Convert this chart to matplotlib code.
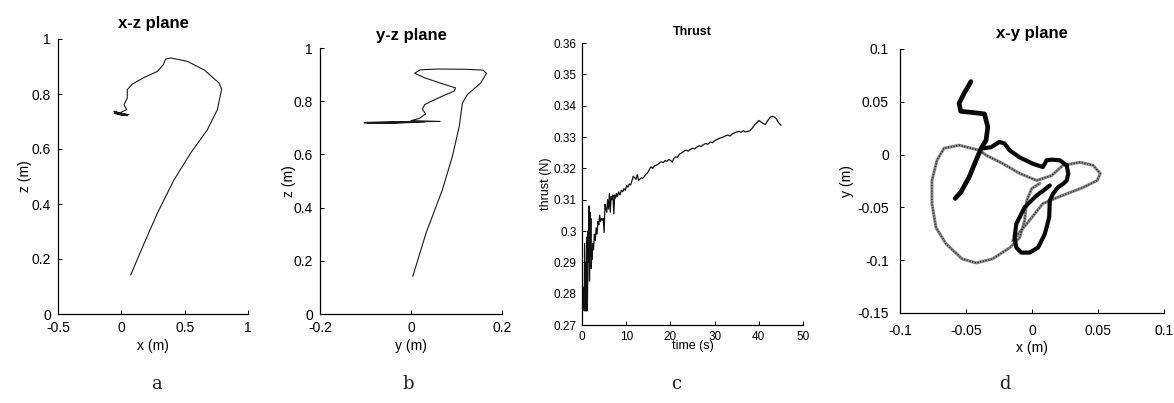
import matplotlib
matplotlib.use("Agg")
import matplotlib.pyplot as plt
import numpy as np

plt.rcParams['font.family'] = ['Liberation Sans', 'DejaVu Sans']
plt.rcParams['axes.unicode_minus'] = False

# ---------------- data ----------------
# panel a: x-z plane
xz_x = [0.074, 0.18, 0.284, 0.416, 0.547, 0.679, 0.758, 0.792, 0.771, 0.653, 0.52, 0.39,
        0.35, 0.33, 0.284, 0.179, 0.087, 0.047, 0.047, 0.021, 0.042, -0.005, -0.058, 0.06,
        -0.045, 0.047, -0.058, 0.05, -0.03, 0.02, -0.05]
xz_z = [0.142, 0.257, 0.366, 0.488, 0.585, 0.67, 0.743, 0.818, 0.84, 0.888, 0.919, 0.931,
        0.927, 0.906, 0.882, 0.86, 0.836, 0.816, 0.785, 0.761, 0.743, 0.733, 0.73, 0.725,
        0.728, 0.721, 0.737, 0.724, 0.726, 0.723, 0.731]

# panel b: y-z plane
yz_y = [0.004, 0.033, 0.069, 0.091, 0.106, 0.113, 0.124, 0.153, 0.166, 0.158, 0.12, 0.06,
        0.02, 0.008, 0.03, 0.07, 0.098, 0.095, 0.07, 0.045, 0.03, 0.025, 0.032, 0.018, 0.0,
        0.064, -0.02, -0.1, 0.03, -0.09, 0.0, -0.06, -0.103, 0.01, -0.08, -0.03, -0.095]
yz_z = [0.142, 0.304, 0.467, 0.593, 0.705, 0.793, 0.825, 0.868, 0.905, 0.917, 0.92, 0.921,
        0.918, 0.905, 0.888, 0.865, 0.85, 0.838, 0.82, 0.8, 0.787, 0.77, 0.752, 0.735, 0.727,
        0.724, 0.722, 0.72, 0.723, 0.718, 0.72, 0.717, 0.719, 0.721, 0.718, 0.72, 0.719]

# panel c: thrust over time
time_s = [0.3, 0.5, 0.6, 0.8, 0.9, 1.0, 1.1, 1.2, 1.3, 1.4, 1.5, 1.6, 1.7, 1.8, 1.9, 2.0,
          2.1, 2.2, 2.3, 2.4,
          2.6, 2.8, 3.0, 3.2, 3.4, 3.6, 3.8, 4.0, 4.2, 4.4, 4.6, 4.8, 5.0, 5.2, 5.4, 5.6,
          5.8, 6.0, 6.2, 6.4, 6.6, 6.8, 7.0, 7.2, 7.4, 7.6, 7.8, 8.0,
          8.3, 8.6, 8.9, 9.2, 9.5, 9.8, 10.1, 10.4, 10.7, 11.0, 11.3, 11.6, 11.9, 12.2,
          12.5, 12.8, 13.1, 13.4, 13.7, 14.0,
          14.4, 14.8, 15.2, 15.6, 16.0, 16.4, 16.8, 17.2, 17.6, 18.0, 18.4, 18.8, 19.2,
          19.6, 20.0, 20.4, 20.8, 21.2, 21.6, 22.0, 22.4, 22.8, 23.2, 23.6, 24.0,
          24.5, 25.0, 25.5, 26.0, 26.5, 27.0, 27.5, 28.0, 28.5, 29.0, 29.5, 30.0, 30.5,
          31.0, 31.5, 32.0, 32.5, 33.0, 33.5, 34.0, 34.5, 35.0, 35.5, 36.0, 36.5, 37.0,
          37.5, 38.0, 38.5, 39.0, 39.5, 40.0, 40.5, 41.0, 41.5, 42.0, 42.5, 43.0, 43.5,
          44.0, 44.5, 45.0]
thrust_n = [0.282, 0.2745, 0.296, 0.2745, 0.290, 0.2745, 0.298, 0.2745, 0.285, 0.300,
            0.290, 0.308, 0.284, 0.306, 0.292, 0.304, 0.288, 0.294, 0.291, 0.296,
            0.294, 0.299, 0.297, 0.301, 0.299, 0.303, 0.302, 0.305, 0.303, 0.304, 0.3035,
            0.304, 0.2995, 0.3085, 0.307, 0.306, 0.310, 0.307, 0.312, 0.306, 0.311, 0.310,
            0.3115, 0.3055, 0.3115, 0.3105, 0.312, 0.311,
            0.3125, 0.3115, 0.313, 0.3125, 0.3135, 0.313, 0.3145, 0.314, 0.315, 0.3147,
            0.316, 0.3175, 0.317, 0.3165, 0.318, 0.3162, 0.3165, 0.317, 0.3168, 0.3172,
            0.318, 0.3185, 0.3195, 0.3205, 0.320, 0.3208, 0.321, 0.3213, 0.3218, 0.3221,
            0.3218, 0.3225, 0.3222, 0.3228, 0.3226, 0.322, 0.3232, 0.3237, 0.3235, 0.3245,
            0.3248, 0.3252, 0.3256, 0.3258, 0.3255,
            0.326, 0.3264, 0.3262, 0.3268, 0.3272, 0.327, 0.3276, 0.3279, 0.3277, 0.3284,
            0.3282, 0.3288, 0.3292, 0.3295, 0.3298, 0.330, 0.3304, 0.3306, 0.3303, 0.331,
            0.3313, 0.3316, 0.3318, 0.3315, 0.332, 0.3316, 0.3318, 0.332, 0.3328, 0.3338,
            0.3345, 0.3353, 0.3348, 0.3343, 0.334, 0.3352, 0.3362, 0.3366, 0.3364, 0.3358,
            0.3345, 0.3338]

# panel d: x-y plane, thick black trace (two strokes) and grey x-marked trace
blk1_x = [-0.0463, -0.0514, -0.0552, -0.0540, -0.0460, -0.0360, -0.0335, -0.0348, -0.0386,
          -0.0424, -0.0476, -0.0539, -0.0582]
blk1_y = [0.0691, 0.0581, 0.0486, 0.0410, 0.0400, 0.0385, 0.0263, 0.0136, 0.0057,
          -0.0054, -0.0213, -0.0356, -0.0415]
blk2_x = [-0.0386, -0.031, -0.0247, -0.0208, -0.017, -0.0094, 0.0005, 0.0082, 0.0097, 0.011,
          0.0148, 0.0211, 0.0263, 0.0275, 0.0263, 0.0237, 0.0198, 0.016, 0.0135, 0.013,
          0.0097, 0.0046, -0.0018, -0.0081, -0.0119, -0.0132, -0.0119, -0.0056, 0.0034,
          0.0097, 0.0135]
blk2_y = [0.0057, 0.007, 0.012, 0.0105, 0.0041, -0.0026, -0.0086, -0.0118, -0.0086, -0.0054,
          -0.0048, -0.0054, -0.0102, -0.0181, -0.0245, -0.0276, -0.0309, -0.0369, -0.0435,
          -0.0594, -0.0752, -0.088, -0.0928, -0.0928, -0.088, -0.0785, -0.0657, -0.0499,
          -0.0388, -0.033, -0.0292]
gry_x = [-0.0147, -0.0033, 0.0082, 0.0189, 0.0288, 0.0387, 0.0494, 0.0517, 0.0463, 0.0364,
         0.0234, 0.015, 0.0036, -0.0094, -0.0224, -0.0346, -0.0399, -0.0552, -0.0667, -0.072,
         -0.0758, -0.0758, -0.0727, -0.0651, -0.0529, -0.0422, -0.03, -0.017, -0.0094,
         -0.0056, -0.004, -0.0002, 0.0059]
gry_y = [-0.0816, -0.0645, -0.0464, -0.0407, -0.0359, -0.0311, -0.0245, -0.0178, -0.0102,
         -0.0073, -0.0102, -0.0197, -0.0245, -0.0178, -0.0083, -0.0007, 0.0041, 0.0089,
         0.006, -0.0054, -0.0245, -0.0464, -0.0692, -0.0845, -0.0988, -0.1026, -0.0988,
         -0.0883, -0.0788, -0.0626, -0.0436, -0.0321, -0.0273]

# tick values
a_xticks = [-0.5, 0, 0.5, 1]
a_yticks = [0, 0.2, 0.4, 0.6, 0.8, 1]
b_xticks = [-0.2, 0, 0.2]
b_yticks = [0, 0.2, 0.4, 0.6, 0.8, 1]
c_xticks = [0, 10, 20, 30, 40, 50]
c_yticks = [0.27, 0.28, 0.29, 0.3, 0.31, 0.32, 0.33, 0.34, 0.35, 0.36]
d_xticks = [-0.1, -0.05, 0, 0.05, 0.1]
d_yticks = [-0.15, -0.1, -0.05, 0, 0.05, 0.1]


def fmt(v):
    return ('%g' % round(v, 4))


def style(ax, xt, yt, fs):
    for s in ('top', 'right'):
        ax.spines[s].set_visible(False)
    for s in ('left', 'bottom'):
        ax.spines[s].set_linewidth(0.9)
    ax.set_xticks(xt)
    ax.set_yticks(yt)
    ax.set_xticklabels([fmt(v) for v in xt])
    ax.set_yticklabels([fmt(v) for v in yt])
    ax.tick_params(direction='in', length=3, width=0.7, labelsize=fs, pad=5)
    ax.set_xlim(xt[0], xt[-1])
    ax.set_ylim(yt[0], yt[-1])


W, H = 1174, 403
fig = plt.figure(figsize=(W / 100, H / 100), dpi=100)


def axes_px(l, t, r, b):
    return fig.add_axes([l / W, 1 - b / H, (r - l) / W, (b - t) / H])


# panel a
ax = axes_px(58, 39, 248, 314)
ax.plot(xz_x, xz_z, color='#1a1a1a', lw=0.8)
style(ax, a_xticks, a_yticks, 10)
ax.set_title('x-z plane', fontsize=12, fontweight='bold', pad=8)
ax.set_xlabel('x (m)', fontsize=10, labelpad=3)
ax.set_ylabel('z (m)', fontsize=10, labelpad=0)

# panel b
ax = axes_px(320, 48, 502, 314)
ax.plot(yz_y, yz_z, color='#1a1a1a', lw=0.8)
style(ax, b_xticks, b_yticks, 10)
ax.set_title('y-z plane', fontsize=12, fontweight='bold', pad=6)
ax.set_xlabel('y (m)', fontsize=10, labelpad=3)
ax.set_ylabel('z (m)', fontsize=10, labelpad=-2)

# panel c
ax = axes_px(582, 43, 803, 325)
ax.plot(time_s, thrust_n, color='#111111', lw=0.9)
style(ax, c_xticks, c_yticks, 8.5)
ax.tick_params(pad=4)
ax.set_title('Thrust', fontsize=9, fontweight='bold', pad=6)
ax.set_xlabel('time (s)', fontsize=9, labelpad=-2)
ax.set_ylabel('thrust (N)', fontsize=9, labelpad=1)

# panel d
ax = axes_px(900, 49, 1164, 313)
ax.plot(gry_x, gry_y, color='#8a8a8a', lw=2.2, solid_capstyle='round')
ax.plot(gry_x, gry_y, color='#2a2a2a', lw=1.0, dashes=(0.8, 1.2))
ax.plot(blk1_x, blk1_y, color='#0a0a0a', lw=3.4, solid_capstyle='round', solid_joinstyle='round')
ax.plot(blk2_x, blk2_y, color='#0a0a0a', lw=3.0, solid_capstyle='round', solid_joinstyle='round')
style(ax, d_xticks, d_yticks, 10)
ax.tick_params(pad=8)
ax.set_title('x-y plane', fontsize=12, fontweight='bold', pad=8)
ax.set_xlabel('x (m)', fontsize=10, labelpad=2)
ax.set_ylabel('y (m)', fontsize=10, labelpad=2)

# sub-figure letters
for lab, xp in (('a', 157), ('b', 408), ('c', 676), ('d', 1005)):
    fig.text(xp / W, 1 - 384 / H, lab, fontsize=13, family='DejaVu Serif',
             ha='center', va='center', color='#222222')

fig.savefig('out.png', dpi=100, facecolor='white')
